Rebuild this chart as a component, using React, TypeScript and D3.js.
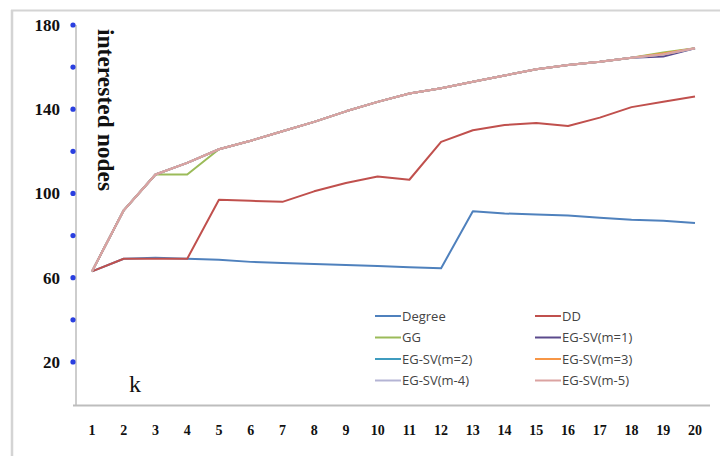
import React from "react";
import * as d3 from "d3";

const ks = [1, 2, 3, 4, 5, 6, 7, 8, 9, 10, 11, 12, 13, 14, 15, 16, 17, 18, 19, 20];
const degree = [63, 69, 69.5, 69, 68.5, 67.5, 67, 66.5, 66, 65.5, 65, 64.5, 91.5, 90.5, 90, 89.5, 88.5, 87.5, 87, 86];
const dd = [63, 69, 69, 69, 97, 96.5, 96, 101, 105, 108, 106.5, 124.5, 130, 132.5, 133.5, 132, 136, 141, 143.5, 146];
const gg = [63, 92, 109, 109, 121, 125, 129.5, 134, 139, 143.5, 147.5, 150, 153, 156, 159, 161, 162.5, 164.5, 167, 169];
const egsv1 = [63, 92, 109, 114.5, 121, 125, 129.5, 134, 139, 143.5, 147.5, 150, 153, 156, 159, 161, 162.5, 164.5, 165, 169];
const egsv2 = [63, 92, 109, 114.5, 121, 125, 129.5, 134, 139, 143.5, 147.5, 150, 153, 156, 159, 161, 162.5, 164.5, 166, 169];
const egsv3 = [63, 92, 109, 114.5, 121, 125, 129.5, 134, 139, 143.5, 147.5, 150, 153, 156, 159, 161, 162.5, 164.5, 166.5, 169];
const egsv4 = [63, 92, 109, 114.5, 121, 125, 129.5, 134, 139, 143.5, 147.5, 150, 153, 156, 159, 161, 162.5, 164.5, 166, 169];
const egsv5 = [63, 92, 109, 114.5, 121, 125, 129.5, 134, 139, 143.5, 147.5, 150, 153, 156, 159, 161, 162.5, 164.5, 166, 169];

const seriesNames = ["Degree", "DD", "GG", "EG-SV(m=1)", "EG-SV(m=2)", "EG-SV(m=3)", "EG-SV(m-4)", "EG-SV(m-5)"];
const seriesValues = [degree, dd, gg, egsv1, egsv2, egsv3, egsv4, egsv5];
const seriesColors = ["#4f81bd", "#c0504d", "#9bbb59", "#5b4a8c", "#3f9cbf", "#f79646", "#b4b4d4", "#dba3a1"];

const yTicks = [20, 60, 100, 140, 180];
const yDots = [20, 40, 60, 80, 100, 120, 140, 160, 180];

export default function App() {
  const W = 720, H = 456;
  const x = d3.scaleLinear().domain([1, 20]).range([92, 695]);
  const y = d3.scaleLinear().domain([0, 180]).range([404, 25]);
  const line = d3.line<number>().x((_, i) => x(ks[i])).y((d) => y(d));

  const legendRows = [316, 337.5, 359, 380.5];
  const legendCols = [375, 535];

  return (
    <svg width={W} height={H} style={{ position: "absolute", left: 0, top: 0, background: "#fff" }}>
      <rect x={0} y={0} width={W} height={H} fill="#fff" />
      {/* frame */}
      <line x1={11} x2={720} y1={10.5} y2={10.5} stroke="#d4d4d4" strokeWidth={2} />
      <line x1={12} x2={12} y1={10} y2={456} stroke="#d4d4d4" strokeWidth={2.5} />
      {/* axes */}
      <line x1={76} x2={76} y1={25} y2={406} stroke="#bdbdbd" strokeWidth={1.5} />
      <line x1={73} x2={710} y1={405.5} y2={405.5} stroke="#bdbdbd" strokeWidth={2} />
      {yDots.map((v) => (
        <circle key={v} cx={73} cy={y(v)} r={2.6} fill="#2a3fe0" />
      ))}
      {yTicks.map((v) => (
        <text key={v} x={60} y={y(v)} dy="0.35em" textAnchor="end" fontFamily="Liberation Serif" fontWeight="bold" fontSize={17} fill="#111">
          {v}
        </text>
      ))}
      {ks.map((k) => (
        <text key={k} x={x(k)} y={430} dy="0.35em" textAnchor="middle" fontFamily="Liberation Serif" fontWeight="bold" fontSize={14} fill="#111">
          {k}
        </text>
      ))}
      <text transform="translate(98,29) rotate(90)" fontFamily="Liberation Serif" fontWeight="bold" fontSize={23.5} fill="#111">
        interested nodes
      </text>
      <text x={129} y={392} fontFamily="Liberation Serif" fontSize={24} fill="#111">k</text>
      {/* series */}
      {seriesValues.map((vals, i) => (
        <path key={seriesNames[i]} d={line(vals) || ""} fill="none" stroke={seriesColors[i]} strokeWidth={2} strokeLinejoin="round" />
      ))}
      {/* legend */}
      {seriesNames.map((name, i) => {
        const cx = legendCols[i % 2];
        const cy = legendRows[Math.floor(i / 2)];
        return (
          <g key={name}>
            <line x1={cx} x2={cx + 26} y1={cy} y2={cy} stroke={seriesColors[i]} strokeWidth={2} />
            <text x={cx + 27} y={cy} dy="0.35em" fontFamily="Open Sans" fontSize={13} fill="#444">
              {name}
            </text>
          </g>
        );
      })}
    </svg>
  );
}
